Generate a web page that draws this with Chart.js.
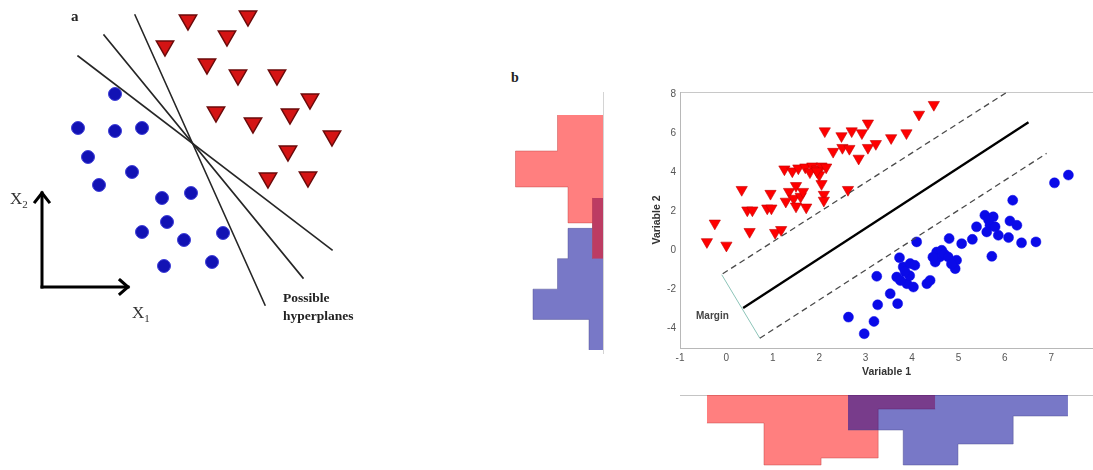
<!DOCTYPE html>
<html><head><meta charset="utf-8">
<script src="https://cdn.jsdelivr.net/npm/chart.js@4.4.1/dist/chart.umd.min.js"></script>
<style>
html,body{margin:0;padding:0;background:#fff;overflow:hidden;width:1093px;height:470px;}
canvas{position:absolute;}
.lbl{position:absolute;white-space:nowrap;line-height:1;}
.serif{font-family:"Liberation Serif","DejaVu Serif",serif;}
.sans{font-family:"Liberation Sans",Arial,sans-serif;}
</style></head><body>
<canvas id="ca" width="380" height="340" style="left:0;top:0"></canvas>
<canvas id="cl" width="102" height="262" style="left:502px;top:92px"></canvas>
<canvas id="cb" width="446" height="298" style="left:647px;top:84px"></canvas>
<canvas id="cd" width="413" height="76" style="left:680px;top:394px"></canvas>

<div class="lbl serif" style="left:71px;top:9px;font-size:15px;font-weight:bold;color:#222">a</div>
<div class="lbl serif" style="left:10px;top:190px;font-size:17px;color:#333">X<sub style="font-size:11px">2</sub></div>
<div class="lbl serif" style="left:132px;top:304px;font-size:17px;color:#333">X<sub style="font-size:11px">1</sub></div>
<div class="lbl serif" style="left:283px;top:291px;font-size:13.5px;font-weight:bold;color:#222">Possible</div>
<div class="lbl serif" style="left:283px;top:309px;font-size:13.5px;font-weight:bold;color:#222">hyperplanes</div>
<div class="lbl serif" style="left:511px;top:71px;font-size:14px;font-weight:bold;color:#222">b</div>
<div class="lbl sans" style="left:696px;top:311px;font-size:10px;font-weight:bold;color:#444">Margin</div>

<script>
// ---------- Panel a : schematic (units: origin at the x1/x2 arrow corner) ----------
const aTriangles = [[146,267],[206,271],[123,241],[185,251],[165,223],[196,212],[235,212],[268,188],
  [174,175],[211,164],[248,173],[290,151],[246,136],[226,109],[266,110]];
const aCircles = [[73,193],[36,159],[73,156],[100,159],[46,130],[90,115],[57,102],[120,89],[149,94],
  [125,65],[100,55],[142,47],[181,54],[122,21],[170,25]];
const aHyperplane1 = [[36,231],[290,37]];
const aHyperplane2 = [[62,252],[261,9]];
const aHyperplane3 = [[93,272],[223,-18]];
const aAxisX2 = [[0,0],[0,94]];
const aAxisX1 = [[0,0],[86,0]];
const aHeadX2 = [[-7,85],[0,94],[7,85]];
const aHeadX1 = [[78,7],[86,0],[78,-7]];

// ---------- Panel b : SVM scatter ----------
const redPoints = [[-0.42,0.43],[0.00,0.25],[-0.25,1.38],[0.50,0.95],[0.33,3.10],[0.45,2.05],[0.56,2.05],
  [0.88,2.15],[0.97,2.15],[0.95,2.90],[1.05,0.90],[1.18,1.05],[1.25,4.15],[1.42,4.05],[1.55,4.20],
  [1.70,4.25],[1.85,4.30],[1.95,4.15],[2.05,4.30],[2.15,4.25],[1.80,4.00],[2.00,3.85],[1.35,3.00],
  [1.50,3.30],[1.28,2.50],[1.45,2.65],[1.60,2.75],[1.72,2.20],[1.50,2.25],[1.65,3.00],[2.05,3.40],
  [2.10,2.85],[2.10,2.55],[2.62,3.10],[2.30,5.05],[2.50,5.25],[2.65,5.20],[2.12,6.10],[2.48,5.85],
  [2.70,6.10],[2.92,6.00],[3.05,6.50],[2.85,4.70],[3.05,5.25],[3.22,5.45],[3.55,5.75],[3.88,6.00],
  [4.15,6.95],[4.47,7.45],[1.95,4.05]];
const bluePoints = [[2.63,-3.42],[2.97,-4.27],[3.18,-3.64],[3.26,-2.79],[3.24,-1.33],[3.53,-2.22],
  [3.69,-2.73],[3.73,-0.38],[3.67,-1.37],[3.81,-0.85],[3.96,-0.68],[4.06,-0.77],[3.89,-1.71],[4.03,-1.88],
  [3.95,-1.30],[4.32,-1.71],[4.39,-1.54],[4.10,0.43],[4.53,-0.09],[4.60,-0.34],[4.50,-0.60],[4.64,0.00],
  [4.70,-0.20],[4.78,-0.34],[4.96,-0.51],[4.93,-0.94],[4.85,-0.70],[4.80,0.60],[5.07,0.34],[5.30,0.56],
  [5.39,1.20],[5.57,1.79],[5.75,1.71],[5.68,1.28],[5.79,1.20],[5.61,0.94],[5.86,0.77],[5.65,1.55],
  [5.72,-0.31],[6.08,0.65],[6.17,2.56],[6.11,1.50],[6.26,1.28],[6.36,0.38],[6.67,0.43],[7.07,3.45],
  [7.37,3.85],[3.85,-1.10],[4.45,-0.35],[3.75,-1.55]];
const hyperplane = [[0.36,-2.95],[6.51,6.55]];
const marginUpper = [[-0.08,-1.20],[6.02,8.05]];
const marginLower = [[0.72,-4.50],[6.90,4.96]];
const marginBar = [[-0.10,-1.25],[0.72,-4.50]];
const xTicks = [-1,0,1,2,3,4,5,6,7];
const yTicks = [-4,-2,0,2,4,6,8];

// ---------- Marginal histograms ----------
const v1RedEdges = [-0.42,0.81,2.04,3.27,4.50];
const v1RedCounts = [8,20,18,4];
const v1BlueEdges = [2.62,3.81,4.99,6.18,7.36];
const v1BlueCounts = [10,20,14,6];
const v2RedEdges = [6.92,5.08,3.24,1.40,-0.44];
const v2RedCounts = [13,25,10,3];
const v2BlueEdges = [2.68,1.12,-0.43,-1.99,-3.54,-5.10];
const v2BlueCounts = [3,10,13,20,4];

const pts = arr => arr.map(p => ({x:p[0], y:p[1]}));
// histogram outline (stepped line) built from edges & counts
const stepV1 = (edges, counts) => edges.map((e,i) => ({x:e, y:counts[Math.min(i,counts.length-1)]}));
const stepV2 = (edges, counts) => edges.map((e,i) => ({y:e, x:counts[Math.min(i,counts.length-1)]}));

const common = {responsive:false, animation:false, events:[],
  plugins:{legend:{display:false}, tooltip:{enabled:false}}, layout:{padding:0, autoPadding:false}};
const noPad = s => { s.paddingTop = 0; s.paddingBottom = 0; s.paddingLeft = 0; s.paddingRight = 0; };

// ---- Panel a chart
const lineDs = (d, w, c) => ({data:pts(d), showLine:true, pointRadius:0, borderColor:c, borderWidth:w,
  borderCapStyle:'square', borderJoinStyle:'miter', fill:false});
new Chart(document.getElementById('ca'), {
  type:'scatter',
  data:{datasets:[
    lineDs(aHyperplane1,1.6,'#262626'), lineDs(aHyperplane2,1.6,'#262626'), lineDs(aHyperplane3,1.6,'#262626'),
    lineDs(aAxisX2,3,'#000'), lineDs(aAxisX1,3,'#000'), lineDs(aHeadX2,3,'#000'), lineDs(aHeadX1,3,'#000'),
    {data:pts(aTriangles), pointStyle:'triangle', rotation:180, pointRadius:10, backgroundColor:'#d41414', borderColor:'#6b0a0a', borderWidth:1.5},
    {data:pts(aCircles), pointStyle:'circle', pointRadius:6.5, backgroundColor:'#1212b4', borderColor:'#4040d8', borderWidth:1}
  ]},
  options:Object.assign({}, common, {scales:{
    x:{type:'linear', display:false, min:-42, max:338},
    y:{type:'linear', display:false, min:-53, max:287}}})
});

// ---- Panel b scatter
const tickFont = {size:10, family:'"Liberation Sans", Arial, sans-serif'};
const titleFont = {size:10.5, weight:'bold', family:'"Liberation Sans", Arial, sans-serif'};
new Chart(document.getElementById('cb'), {
  type:'scatter',
  data:{datasets:[
    {data:pts(hyperplane), showLine:true, pointRadius:0, borderColor:'#000', borderWidth:2.3},
    {data:pts(marginUpper), showLine:true, pointRadius:0, borderColor:'#4a4a4a', borderWidth:1.3, borderDash:[6,4]},
    {data:pts(marginLower), showLine:true, pointRadius:0, borderColor:'#4a4a4a', borderWidth:1.3, borderDash:[6,4]},
    {data:pts(marginBar), showLine:true, pointRadius:0, borderColor:'#8cc4b8', borderWidth:1},
    {data:pts(redPoints), pointStyle:'triangle', rotation:180, pointRadius:6.5, backgroundColor:'#ff0000', borderColor:'#c40000', borderWidth:0.6},
    {data:pts(bluePoints), pointStyle:'circle', pointRadius:5, backgroundColor:'#0a0ae8', borderColor:'#0a0ae8', borderWidth:0.5}
  ]},
  options:Object.assign({}, common, {layout:{padding:{top:8, left:0, right:0, bottom:0}, autoPadding:false}, scales:{
    x:{type:'linear', position:'bottom', min:-1, max:7.9,
       afterBuildTicks:s=>{s.ticks = xTicks.map(v=>({value:v}));},
       afterFit:s=>{s.height = 34; noPad(s);},
       grid:{drawOnChartArea:false, drawTicks:false}, border:{color:'#b8b8b8'},
       ticks:{color:'#555', font:tickFont, padding:4},
       title:{display:true, text:'Variable 1', color:'#333', font:titleFont, padding:{top:0,bottom:4}}},
    x2:{type:'linear', position:'top', min:-1, max:7.9,
       afterFit:s=>{s.height = 0; noPad(s);},
       grid:{drawOnChartArea:false, drawTicks:false}, border:{color:'#c8c8c8'},
       ticks:{display:false}},
    y:{type:'linear', position:'left', min:-5, max:8.1,
       afterBuildTicks:s=>{s.ticks = yTicks.map(v=>({value:v}));},
       afterFit:s=>{s.width = 33; noPad(s);},
       grid:{drawOnChartArea:false, drawTicks:false}, border:{color:'#b8b8b8'},
       ticks:{color:'#555', font:tickFont, padding:4},
       title:{display:true, text:'Variable 2', color:'#333', font:titleFont, padding:{top:4,bottom:0}}}
  }})
});

// ---- Left histogram (Variable 2)
new Chart(document.getElementById('cl'), {
  type:'line',
  data:{datasets:[
    {data:stepV2(v2RedEdges, v2RedCounts), stepped:'after', pointRadius:0, fill:'origin',
     backgroundColor:'rgba(255,0,0,0.5)', borderColor:'rgba(190,60,60,0.55)', borderWidth:0.8},
    {data:stepV2(v2BlueEdges, v2BlueCounts), stepped:'after', pointRadius:0, fill:'origin',
     backgroundColor:'rgba(0,0,150,0.53)', borderColor:'rgba(70,70,140,0.55)', borderWidth:0.8}
  ]},
  options:Object.assign({}, common, {indexAxis:'y', scales:{
    x:{type:'linear', display:false, reverse:true, min:0, max:28.86},
    y:{type:'linear', position:'right', min:-5.31, max:8.1,
       afterFit:s=>{s.width = 1; noPad(s);},
       grid:{drawOnChartArea:false, drawTicks:false}, border:{color:'#d4d4d4'},
       ticks:{display:false}}
  }})
});

// ---- Bottom histogram (Variable 1)
new Chart(document.getElementById('cd'), {
  type:'line',
  data:{datasets:[
    {data:stepV1(v1BlueEdges, v1BlueCounts), stepped:'before', pointRadius:0, fill:'origin',
     backgroundColor:'rgba(0,0,150,0.53)', borderColor:'rgba(70,70,140,0.55)', borderWidth:0.8},
    {data:stepV1(v1RedEdges, v1RedCounts), stepped:'before', pointRadius:0, fill:'origin',
     backgroundColor:'rgba(255,0,0,0.5)', borderColor:'rgba(190,60,60,0.55)', borderWidth:0.8}
  ]},
  options:Object.assign({}, common, {scales:{
    x:{type:'linear', position:'top', min:-1, max:7.9,
       afterFit:s=>{s.height = 1; noPad(s);},
       grid:{drawOnChartArea:false, drawTicks:false}, border:{color:'#c4c4c4'},
       ticks:{display:false}},
    y:{type:'linear', display:false, reverse:true, min:0, max:21.43}
  }})
});
</script>
</body></html>
